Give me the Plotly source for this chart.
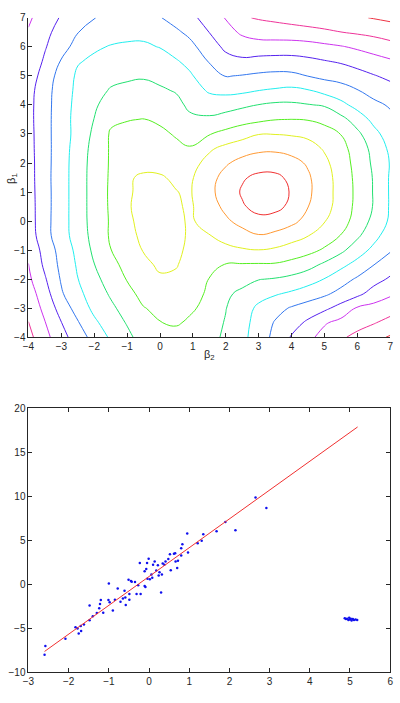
import plotly.graph_objects as go

# ---------------- top panel: cost surface over (beta2, beta1) ----------------
beta2_grid = [-4, -3.5, -3, -2.5, -2, -1.5, -1, -0.5, 0, 0.5, 0.9, 1.5, 2, 2.5, 3, 3.5, 4, 4.5, 5, 5.5, 6, 6.5, 7]
beta1_grid = [-4, -3.5, -3, -2.5, -2, -1.5, -1, -0.5, 0, 0.5, 1, 1.5, 2, 2.5, 3, 3.5, 4, 4.5, 5, 5.5, 6, 6.5, 7]

# values (rows follow beta1_grid, columns follow beta2_grid)
cost = [
    [10.3, 9.31, 8.36, 7.49, 6.65, 5.86, 5.23, 4.6, 4.4, 4.35, 4.5, 4.8, 5.11, 5.75, 6.47, 7.27, 8.08, 8.76, 9.33, 9.84, 10.29, 10.71, 11.1],
    [10.02, 9.04, 8.02, 7.08, 6.18, 5.52, 4.93, 4.45, 4.02, 3.9, 4.14, 4.63, 5.06, 5.68, 6.36, 7.08, 7.6, 8.17, 8.9, 9.28, 9.6, 9.93, 10.33],
    [9.75, 8.73, 7.59, 6.59, 5.77, 5.2, 4.62, 4.04, 3.8, 3.75, 3.85, 4.28, 4.97, 5.6, 6.17, 6.66, 7.1, 7.45, 7.79, 8.36, 9.11, 9.31, 9.57],
    [9.5, 8.43, 7.11, 6.25, 5.53, 4.88, 4.28, 3.72, 3.41, 3.41, 3.6, 4.16, 4.82, 5.23, 5.69, 5.9, 6.16, 6.48, 6.83, 7.29, 7.73, 8.42, 8.85],
    [9.2, 8.1, 6.9, 6.02, 5.27, 4.58, 3.95, 3.44, 3.12, 3.15, 3.45, 4.02, 4.32, 4.64, 4.96, 5.07, 5.27, 5.6, 6.03, 6.6, 7.13, 7.62, 8.14],
    [9.02, 7.8, 6.75, 5.88, 5.02, 4.29, 3.71, 3.22, 2.85, 2.95, 3.3, 3.85, 4.03, 4.07, 4.09, 4.1, 4.3, 4.64, 5.18, 5.73, 6.33, 6.98, 7.49],
    [8.78, 7.64, 6.63, 5.74, 4.8, 4.02, 3.47, 2.95, 2.72, 2.85, 3.15, 3.4, 3.25, 3.1, 3.02, 3.15, 3.44, 3.7, 4.13, 4.78, 5.52, 6.26, 6.91],
    [8.55, 7.36, 6.42, 5.56, 4.67, 3.89, 3.29, 2.8, 2.6, 2.85, 3.07, 3.04, 2.67, 2.36, 2.06, 2.25, 2.58, 2.97, 3.48, 4.03, 4.83, 5.66, 6.53],
    [8.48, 7.33, 6.43, 5.49, 4.62, 3.9, 3.2, 2.7, 2.56, 2.78, 3.12, 2.68, 2.16, 1.69, 1.27, 1.38, 1.75, 2.32, 2.95, 3.61, 4.37, 5.28, 6.15],
    [8.45, 7.35, 6.43, 5.49, 4.6, 3.87, 3.09, 2.72, 2.62, 2.87, 3.15, 2.41, 1.78, 1.1, 0.7, 0.75, 1.2, 1.98, 2.65, 3.4, 4.26, 5.06, 6.1],
    [8.42, 7.35, 6.43, 5.49, 4.6, 3.86, 3.08, 2.85, 2.78, 2.98, 3.1, 2.24, 1.56, 0.9, 0.5, 0.55, 1.08, 1.82, 2.58, 3.38, 4.22, 5.06, 6.1],
    [8.4, 7.33, 6.43, 5.49, 4.6, 3.88, 3.08, 2.9, 2.93, 3.12, 3.17, 2.32, 1.69, 1.1, 0.8, 0.8, 1.2, 1.87, 2.6, 3.4, 4.26, 5.07, 6.1],
    [8.38, 7.35, 6.43, 5.51, 4.62, 3.9, 3.55, 3.21, 3.23, 3.4, 3.4, 2.67, 2.11, 1.7, 1.43, 1.43, 1.7, 2.11, 2.77, 3.52, 4.33, 5.17, 6.05],
    [8.35, 7.35, 6.45, 5.56, 4.68, 3.9, 3.72, 3.47, 3.53, 3.8, 3.93, 3.15, 2.72, 2.43, 2.23, 2.19, 2.32, 2.6, 3.1, 3.7, 4.41, 5.31, 6.19],
    [8.33, 7.35, 6.44, 5.68, 4.8, 3.9, 3.75, 3.74, 3.82, 4.09, 4.37, 4.05, 3.73, 3.38, 3.03, 3.03, 3.1, 3.23, 3.63, 4.02, 4.78, 5.69, 6.48],
    [8.3, 7.35, 6.44, 5.66, 4.98, 4.17, 4.04, 3.98, 4.14, 4.41, 4.8, 4.82, 4.59, 4.38, 4.21, 4.03, 3.99, 4.05, 4.24, 4.69, 5.45, 6.27, 6.77],
    [8.3, 7.37, 6.45, 5.72, 5.15, 4.55, 4.41, 4.36, 4.51, 4.74, 5.19, 5.51, 5.41, 5.18, 4.98, 4.83, 4.83, 4.95, 5.09, 5.72, 6.33, 6.78, 7.1],
    [8.35, 7.41, 6.48, 5.79, 5.36, 4.92, 4.78, 4.71, 4.87, 5.08, 5.53, 6.12, 6.27, 6.21, 6.01, 5.89, 5.78, 5.94, 6.33, 6.61, 6.96, 7.34, 7.64],
    [8.54, 7.58, 6.59, 5.85, 5.63, 5.27, 5.15, 5.09, 5.26, 5.48, 5.86, 6.59, 7.04, 6.95, 6.83, 6.75, 6.78, 7.02, 7.24, 7.37, 7.64, 7.94, 8.22],
    [8.75, 7.85, 6.93, 6.07, 5.84, 5.61, 5.53, 5.49, 5.64, 5.92, 6.26, 7.06, 7.66, 7.81, 7.68, 7.63, 7.65, 7.77, 7.94, 8.11, 8.37, 8.64, 8.87],
    [8.85, 8.08, 7.31, 6.7, 6.12, 5.95, 5.9, 5.88, 6.03, 6.42, 6.7, 7.55, 8.2, 8.5, 8.57, 8.55, 8.52, 8.6, 8.77, 8.93, 9.15, 9.38, 9.65],
    [8.92, 8.25, 7.63, 7.02, 6.6, 6.32, 6.19, 6.2, 6.49, 6.84, 7.22, 8.01, 8.65, 9.15, 9.42, 9.5, 9.58, 9.68, 9.81, 9.98, 10.12, 10.27, 10.46],
    [9.15, 8.51, 7.91, 7.47, 7.03, 6.7, 6.45, 6.5, 6.95, 7.38, 7.73, 8.4, 9.06, 9.9, 10.08, 10.21, 10.35, 10.49, 10.63, 10.77, 10.9, 11.05, 11.2],
]

contour_levels = [1, 2, 3, 4, 5, 6, 7, 8, 9, 10, 11]
level_colors = ["#F03030", "#FF9933", "#E0F020", "#55EE22", "#22E070", "#22EEEE",
                "#3377EE", "#5522EE", "#CC33EE", "#EE3399", "#EE3344"]

top_xticks = [-4, -3, -2, -1, 0, 1, 2, 3, 4, 5, 6, 7]
top_yticks = [-4, -3, -2, -1, 0, 1, 2, 3, 4, 5, 6, 7]

# ---------------- bottom panel: data and fitted line ----------------
sample_x = [
    -2.58, -2.60, -2.08, -1.83, -1.78, -1.75, -1.69, -1.70, -1.62, -1.48, -1.48, -1.40, -1.30,
    -1.24, -1.22, -1.20, -1.14, -1.01, -1.00, -0.98, -0.90, -0.85, -0.78, -0.71, -0.65, -0.58,
    -0.59, -0.51, -0.49, -0.43, -0.35, -0.31, -0.21, -0.23, -0.11, -0.09, -0.11, -0.07, -0.05,
    -0.01, 0.02, 0.06, 0.10, 0.08, 0.14, 0.18, 0.22, 0.26, 0.30, 0.32, 0.34, 0.41, 0.38, 0.48,
    0.52, 0.54, 0.62, 0.66, 0.70, 0.72, 0.80, 0.97, 0.83, 0.80, 0.95, 1.21, 0.65, 1.31, 1.35,
    1.68, 1.90, 2.15, 2.65, 2.92, -0.27, -0.45, -0.61, 0.24, -0.04, -0.49,
    4.87, 4.90, 4.93, 4.96, 4.98, 5.00, 5.02, 5.04, 5.07, 5.10, 5.14, 5.18,
]
sample_y = [
    -6.99, -8.00, -6.17, -4.87, -5.02, -5.57, -5.31, -4.72, -4.57, -2.42, -4.09, -3.64, -3.27,
    -2.71, -2.23, -1.78, -3.23, -1.78, 0.10, -2.05, -2.97, -1.75, -0.49, -1.97, -1.60, -2.34,
    -1.49, 0.52, -1.75, 0.30, 0.26, -1.11, -1.11, 2.41, -0.19, -0.30, 1.49, 1.74, 2.41,
    2.90, 0.56, 1.12, 2.23, 0.74, 2.60, 1.57, 2.16, 1.38, -0.93, 1.12, 2.35, 2.60, 2.23, 2.86,
    3.42, 1.60, 3.46, 2.60, 1.86, 2.68, 3.28, 3.61, 4.53, 4.09, 5.76, 4.65, 3.53, 4.94, 5.69,
    6.03, 7.06, 6.13, 9.85, 8.66, -0.11, 0.37, -0.74, 1.01, 0.63, -1.11,
    -3.85, -3.95, -3.90, -4.05, -3.80, -4.00, -3.90, -4.10, -3.95, -4.05, -4.00, -4.05,
]
fit_x = [-2.60, 5.19]
fit_y = [-7.62, 17.85]

bottom_xticks = [-3, -2, -1, 0, 1, 2, 3, 4, 5, 6]
bottom_yticks = [-10, -5, 0, 5, 10, 15, 20]

# ---------------- figure ----------------
fig = go.Figure()

for lev, col in zip(contour_levels, level_colors):
    fig.add_trace(go.Contour(
        x=beta2_grid, y=beta1_grid, z=cost,
        autocontour=False,
        contours=dict(start=lev, end=lev, size=1, coloring="none"),
        line=dict(color=col, width=1, smoothing=1.3),
        showscale=False, hoverinfo="skip",
        xaxis="x", yaxis="y",
    ))

fig.add_trace(go.Scatter(
    x=sample_x, y=sample_y, mode="markers",
    marker=dict(color="#1010EE", size=2.5, line=dict(width=0)),
    xaxis="x2", yaxis="y2", hoverinfo="skip",
))
fig.add_trace(go.Scatter(
    x=fit_x, y=fit_y, mode="lines",
    line=dict(color="#F03030", width=1),
    xaxis="x2", yaxis="y2", hoverinfo="skip",
))

font_family = "Liberation Sans, Arial, Helvetica, sans-serif"
axis_common = dict(
    showgrid=False, zeroline=False, showline=True, linecolor="#262626", linewidth=1,
    ticks="inside", ticklen=4, tickwidth=1, tickcolor="#262626",
    tickfont=dict(family=font_family, size=10, color="#262626"),
)

xd = [23 / 400, 393 / 400]
fig.update_layout(
    width=400, height=703,
    margin=dict(l=0, r=0, t=0, b=0),
    paper_bgcolor="white", plot_bgcolor="white",
    showlegend=False,
    xaxis=dict(domain=xd, range=[-4, 7], tickvals=top_xticks, anchor="y", **axis_common),
    yaxis=dict(domain=[1 - 337 / 703, 1 - 12 / 703], range=[-4, 7], tickvals=top_yticks,
               anchor="x", **axis_common),
    xaxis2=dict(domain=xd, range=[-3, 6], tickvals=bottom_xticks, anchor="y2",
                mirror="ticks", **axis_common),
    yaxis2=dict(domain=[1 - 678 / 703, 1 - 409 / 703], range=[-10, 20], tickvals=bottom_yticks,
                anchor="x2", mirror="ticks", **axis_common),
    annotations=[
        dict(text="β<sub>2</sub>", x=208 / 400, y=1 - 355 / 703, xref="paper", yref="paper",
             xanchor="center", yanchor="middle",
             showarrow=False, font=dict(family=font_family, size=11, color="#262626")),
        dict(text="β<sub>1</sub>", x=6 / 400, y=1 - 175 / 703, xref="paper", yref="paper",
             xanchor="center", yanchor="middle",
             showarrow=False, textangle=-90,
             font=dict(family=font_family, size=11, color="#262626")),
    ],
)

fig.write_html("out.html")
